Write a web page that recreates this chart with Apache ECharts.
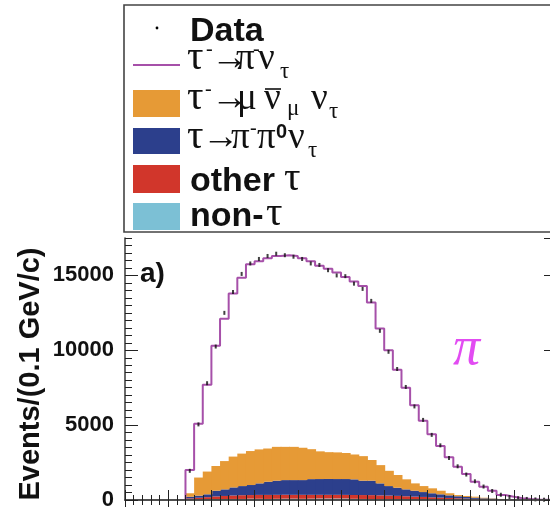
<!DOCTYPE html>
<html>
<head>
<meta charset="utf-8">
<script src="https://cdn.jsdelivr.net/npm/echarts@6/dist/echarts.min.js"></script>
<style>
  html, body { margin: 0; padding: 0; background: #ffffff; }
  #chart { width: 550px; height: 507px; }
</style>
</head>
<body>
<div id="chart"></div>
<script>
// Track momentum bins (bin centres, GeV/c), 0.1 GeV/c wide
const binWidth = 0.1;
const momentum = [
  0.05, 0.15, 0.25, 0.35, 0.45, 0.55, 0.65, 0.75, 0.85, 0.95,
  1.05, 1.15, 1.25, 1.35, 1.45, 1.55, 1.65, 1.75, 1.85, 1.95,
  2.05, 2.15, 2.25, 2.35, 2.45, 2.55, 2.65, 2.75, 2.85, 2.95,
  3.05, 3.15, 3.25, 3.35, 3.45, 3.55, 3.65, 3.75, 3.85, 3.95,
  4.05, 4.15, 4.25, 4.35, 4.45, 4.55, 4.65, 4.75, 4.85, 4.95
];

// Measured events per bin
const dataEvents = [
  null, null, null, null, null, null, null, 1950, 5050, 7800,
  10250, 12500, 13900, 15100, 15800, 16100, 16300, 16450, 16350, 16250,
  16100, 15800, 15700, 15350, 15000, 14950, 14450, 14100, 13300, 11300,
  9900, 8750, 7550, 6250, 5350, 4350, 3650, 2800, 2250, 1700,
  1250, 900, 600, 350, 200, 120, 70, 40, 20, 15
];

// Simulated tau- -> pi- nu_tau (outline histogram)
const tauPiNu = [
  0, 0, 0, 0, 0, 0, 0, 2000, 5100, 7700,
  10300, 12100, 13800, 14850, 15750, 15950, 16150, 16300, 16350, 16300,
  16150, 15950, 15650, 15450, 15200, 14900, 14600, 14300, 13200, 11450,
  10000, 8700, 7500, 6330, 5300, 4400, 3600, 2850, 2220, 1730,
  1220, 890, 620, 330, 220, 120, 60, 30, 20, 10
];

// Stacked backgrounds (bottom to top: non-tau, other tau, pi pi0 nu, mu nu nu)
const nonTau = [
  0, 0, 0, 0, 0, 0, 0, 20, 30, 40,
  50, 60, 70, 70, 90, 80, 70, 80, 90, 90,
  80, 90, 100, 100, 100, 100, 80, 70, 60, 50,
  45, 40, 35, 30, 25, 20, 15, 12, 10, 8,
  6, 5, 4, 3, 0, 0, 0, 0, 0, 0
];
const otherTau = [
  0, 0, 0, 0, 0, 0, 0, 90, 120, 150,
  190, 210, 230, 250, 240, 260, 270, 265, 260, 255,
  265, 255, 245, 245, 245, 240, 255, 260, 265, 260,
  250, 235, 215, 195, 180, 160, 145, 125, 105, 85,
  70, 55, 41, 27, 10, 0, 0, 0, 0, 0
];
const tauPiPi0Nu = [
  0, 0, 0, 0, 0, 0, 0, 110, 140, 190,
  380, 440, 540, 610, 670, 770, 880, 945, 980, 985,
  985, 1050, 1055, 1060, 1055, 1060, 1045, 960, 965, 800,
  635, 545, 460, 395, 325, 270, 220, 173, 135, 107,
  74, 50, 45, 30, 15, 8, 0, 0, 0, 0
];
const tauMuNuNu = [
  0, 0, 0, 0, 0, 0, 0, 230, 1210, 1520,
  1650, 1890, 2060, 2170, 2270, 2270, 2220, 2260, 2220, 2220,
  2160, 2000, 1850, 1790, 1780, 1740, 1660, 1640, 1380, 1220,
  1020, 850, 670, 490, 400, 330, 240, 140, 80, 70,
  70, 40, 20, 10, 0, 0, 0, 0, 0, 0
];

const yMax = 17500;
const yMajor = 5000;
const yMinor = 500;

const COLORS = {
  muNuNu: '#e69a36',
  piPi0: '#2c3f8c',
  other: '#d1362b',
  nonTau: '#7cc0d5',
  piNu: '#a650a9',
  piLabel: '#e24cf2',
  ink: '#111111',
  frame: '#444444'
};

const SANS = '"Liberation Sans", Arial, sans-serif';
const SERIF = '"Liberation Serif", "DejaVu Serif", serif';

// Outline of the pi nu histogram, as (low edge, content) pairs
const firstFilled = tauPiNu.findIndex(v => v > 0);
const piNuOutline = [[momentum[firstFilled] - binWidth / 2, 0]];
for (let k = firstFilled; k < momentum.length; k++) {
  piNuOutline.push([momentum[k] - binWidth / 2, tauPiNu[k]]);
}
piNuOutline.push([momentum[momentum.length - 1] + binWidth / 2, tauPiNu[tauPiNu.length - 1]]);

const dataPoints = momentum.map((m, i) => [m, dataEvents[i]]).filter(p => p[1] !== null);

// Stacked histogram layers: each bin becomes [low edge, high edge, bottom, top]
const stackOrder = [
  { name: 'non-τ', values: nonTau, color: COLORS.nonTau },
  { name: 'other τ', values: otherTau, color: COLORS.other },
  { name: 'τ→π⁻π⁰ν_τ', values: tauPiPi0Nu, color: COLORS.piPi0 },
  { name: 'τ⁻→μ⁻ν̄_μν_τ', values: tauMuNuNu, color: COLORS.muNuNu }
];
const runningTop = momentum.map(() => 0);
const stackSeries = stackOrder.map(layer => {
  const bins = [];
  momentum.forEach((m, i) => {
    const v = layer.values[i];
    if (v > 0) {
      bins.push([m - binWidth / 2, m + binWidth / 2, runningTop[i], runningTop[i] + v]);
      runningTop[i] += v;
    }
  });
  return {
    name: layer.name,
    type: 'custom',
    xAxisIndex: 1,
    yAxisIndex: 0,
    data: bins,
    encode: { x: [0, 1], y: [2, 3] },
    renderItem: function (params, api) {
      const lo = api.coord([api.value(0), api.value(2)]);
      const hi = api.coord([api.value(1), api.value(3)]);
      return {
        type: 'rect',
        shape: { x: lo[0], y: hi[1], width: hi[0] - lo[0] + 1, height: lo[1] - hi[1] },
        style: { fill: layer.color, stroke: null }
      };
    },
    silent: true,
    z: 2
  };
});

function piece(text, x, base, size, family, weight, style, color) {
  return {
    type: 'text',
    silent: true,
    style: {
      text: text,
      x: x,
      y: base - 0.34 * size,
      font: (style || 'normal') + ' ' + (weight || 'normal') + ' ' + size + 'px ' + family,
      fill: color || COLORS.ink,
      align: 'left',
      verticalAlign: 'middle'
    },
    z: 20
  };
}

const T = 41;   // tau
const G = 37;   // other greek letters and arrows
const SUP = 20; // superscripts
const SUB = 23; // subscripts

const legendGraphics = [
  { type: 'rect', silent: true, shape: { x: 124, y: 5, width: 460, height: 227 },
    style: { fill: '#ffffff', stroke: COLORS.frame, lineWidth: 1.6 }, z: 10 },
  // Data
  { type: 'circle', silent: true, shape: { cx: 157, cy: 28, r: 1.4 }, style: { fill: '#000' }, z: 20 },
  piece('Data', 190, 43, 34, SANS, 'bold'),
  // tau- -> pi- nu_tau
  { type: 'line', silent: true, shape: { x1: 133, y1: 65, x2: 180, y2: 65 },
    style: { stroke: COLORS.piNu, lineWidth: 2 }, z: 20 },
  piece('τ', 187, 72, T, SERIF),
  piece('-', 206, 57, SUP, SERIF),
  piece('→', 211, 72, G, SERIF),
  piece('π', 236, 72, G, SERIF),
  piece('-', 253, 57, SUP, SERIF),
  piece('ν', 258, 72, G, SERIF),
  piece('τ', 280, 80, SUB, SERIF),
  // tau- -> mu- nubar_mu nu_tau
  { type: 'rect', silent: true, shape: { x: 133, y: 90, width: 47, height: 27 },
    style: { fill: COLORS.muNuNu }, z: 20 },
  piece('τ', 187, 112, T, SERIF),
  piece('-', 205, 97, SUP, SERIF),
  piece('→', 211, 112, G, SERIF),
  piece('μ', 237, 112, G, SERIF),
  piece('ν', 264, 112, G, SERIF),
  { type: 'line', silent: true, shape: { x1: 265, y1: 89, x2: 281, y2: 89 },
    style: { stroke: COLORS.ink, lineWidth: 1.6 }, z: 20 },
  piece('μ', 287, 117, SUB, SERIF),
  piece('ν', 311, 112, G, SERIF),
  piece('τ', 329, 120, SUB, SERIF),
  // tau -> pi- pi0 nu_tau
  { type: 'rect', silent: true, shape: { x: 133, y: 128, width: 47, height: 26 },
    style: { fill: COLORS.piPi0 }, z: 20 },
  piece('τ', 187, 151, T, SERIF),
  piece('→', 202, 151, G, SERIF),
  piece('π', 231, 151, G, SERIF),
  piece('-', 250, 136, SUP, SERIF),
  piece('π', 257, 151, G, SERIF),
  piece('0', 276, 139, SUP, SANS, 'bold'),
  piece('ν', 288, 151, G, SERIF),
  piece('τ', 308, 159, SUB, SERIF),
  // other tau
  { type: 'rect', silent: true, shape: { x: 133, y: 165, width: 47, height: 28 },
    style: { fill: COLORS.other }, z: 20 },
  piece('other', 190, 193, 34, SANS, 'bold'),
  piece('τ', 284, 193, T, SERIF),
  // non-tau
  { type: 'rect', silent: true, shape: { x: 133, y: 203, width: 47, height: 27 },
    style: { fill: COLORS.nonTau }, z: 20 },
  piece('non-', 190, 228, 34, SANS, 'bold'),
  piece('τ', 266, 228, T, SERIF)
];

const plotGraphics = [
  piece('a)', 140, 284, 28, SANS, 'bold'),
  piece('π', 453, 368, 54, SERIF, 'normal', 'italic', COLORS.piLabel),
  {
    type: 'text',
    silent: true,
    x: 31,
    y: 374,
    rotation: Math.PI / 2,
    style: {
      text: 'Events/(0.1 GeV/c)',
      font: 'bold 29px ' + SANS,
      fill: COLORS.ink,
      align: 'center',
      verticalAlign: 'middle'
    },
    z: 20
  }
];

const tickStyle = { color: '#222222', width: 1 };

function xValueAxis(position) {
  return {
    type: 'value',
    position: position,
    min: 0,
    max: 5,
    interval: 0.5,
    axisLine: { show: true, lineStyle: { color: COLORS.frame, width: 1.6 } },
    axisTick: { show: true, inside: true, length: 10, lineStyle: tickStyle },
    minorTick: { show: true, splitNumber: 5, length: 5, lineStyle: tickStyle },
    axisLabel: { show: false },
    splitLine: { show: false },
    z: 10
  };
}

function yAxisPair(position, withLabels) {
  const major = {
    type: 'value',
    position: position,
    min: 0,
    max: yMax,
    interval: yMajor,
    axisLine: { show: true, lineStyle: { color: COLORS.frame, width: 1.6 } },
    axisTick: { show: true, inside: true, length: 13, lineStyle: tickStyle },
    axisLabel: withLabels ? {
      show: true, margin: 11, color: COLORS.ink, fontSize: 22, fontWeight: 'bold',
      fontFamily: SANS, showMaxLabel: false,
      formatter: v => String(v)
    } : { show: false },
    splitLine: { show: false },
    z: 10
  };
  const minor = {
    type: 'value',
    position: position,
    min: 0,
    max: yMax,
    interval: yMinor,
    axisLine: { show: false },
    axisTick: { show: true, inside: true, length: 7, lineStyle: tickStyle },
    axisLabel: { show: false },
    splitLine: { show: false },
    z: 10
  };
  return [major, minor];
}

const chart = echarts.init(document.getElementById('chart'), null, { renderer: 'canvas' });

chart.setOption({
  animation: false,
  backgroundColor: '#ffffff',
  grid: { left: 125, top: 238, right: -7, bottom: 7, outerBoundsMode: 'none', containLabel: false },
  xAxis: [
    { type: 'category', data: momentum, boundaryGap: true, show: false, position: 'bottom' },
    xValueAxis('bottom'),
    xValueAxis('top')
  ],
  yAxis: [].concat(yAxisPair('left', true), yAxisPair('right', false)),
  series: stackSeries.concat([
    {
      name: 'τ⁻→π⁻ν_τ',
      type: 'line',
      xAxisIndex: 1,
      yAxisIndex: 0,
      step: 'end',
      data: piNuOutline,
      showSymbol: false,
      symbol: 'none',
      lineStyle: { color: COLORS.piNu, width: 2 },
      emphasis: { disabled: true },
      z: 4
    },
    {
      name: 'Data',
      type: 'scatter',
      xAxisIndex: 1,
      yAxisIndex: 0,
      data: dataPoints,
      symbol: 'rect',
      symbolSize: [2, 4],
      itemStyle: { color: '#111111' },
      emphasis: { disabled: true },
      z: 5
    }
  ]),
  graphic: legendGraphics.concat(plotGraphics)
});
</script>
</body>
</html>
